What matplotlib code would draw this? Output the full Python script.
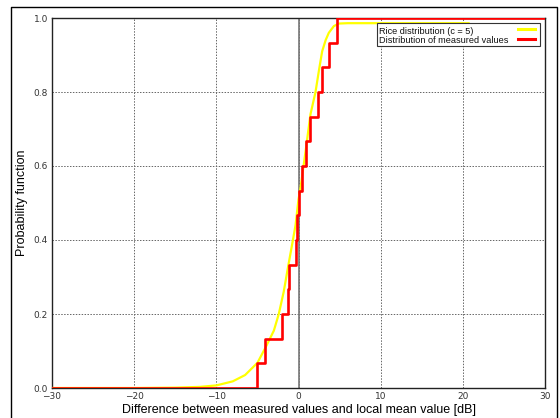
import matplotlib
matplotlib.use("Agg")
import matplotlib.pyplot as plt
from matplotlib.lines import Line2D
from matplotlib.patches import Rectangle

# Rice distribution (c = 5)
rice_db = [-30, -20, -15, -12, -10, -8, -6.5, -5, -4, -3, -2.4, -1.8, -1.25, -0.8,
           -0.36, 0, 0.24, 0.8, 1.46, 2.07, 2.5, 2.88, 3.3, 3.69, 4.3, 4.9, 6, 20.7]
rice_p = [0.0, 0.0, 0.001, 0.003, 0.007, 0.018, 0.035, 0.068, 0.11, 0.155, 0.2, 0.26,
          0.33, 0.385, 0.44, 0.51, 0.54, 0.63, 0.74, 0.8, 0.86, 0.91, 0.94, 0.96,
          0.978, 0.985, 0.986, 0.986]

# Distribution of measured values (empirical steps)
meas_db = [-30, -5.1, -4.1, -2.05, -1.25, -1.15, -0.35, -0.15, 0.02, 0.45, 0.9, 1.45,
           2.35, 2.8, 3.7, 4.7, 30]
meas_p = [0.0, 0.0667, 0.1333, 0.2, 0.2667, 0.3333, 0.4, 0.4667, 0.5333, 0.6, 0.6667,
          0.7333, 0.8, 0.8667, 0.9333, 1.0, 1.0]

x_ticks = [-30, -20, -10, 0, 10, 20, 30]
y_ticks = [0.0, 0.2, 0.4, 0.6, 0.8, 1.0]
y_ticklabels = ["0.0", "0.2", "0.4", "0.6", "0.8", "1.0"]
legend_labels = ["Rice distribution (c = 5)", "Distribution of measured values"]
colors = ["#ffff00", "#ff0000"]

fig = plt.figure(figsize=(5.6, 4.18), dpi=100)
ax = fig.add_axes([52/560, 1-388/418, (545-52)/560, (388-18)/418])

ax.set_xlim(-30, 30)
ax.set_ylim(0, 1.0)
ax.set_xticks(x_ticks)
ax.set_yticks(y_ticks)
ax.set_yticklabels(y_ticklabels)
ax.tick_params(length=0, labelsize=6.5, colors="#333333", pad=3)
ax.grid(True, color="#666666", linestyle=(0, (1.5, 1.5)), linewidth=0.7)
ax.axvline(0, color="#777777", linewidth=1.2, zorder=2)
for s in ax.spines.values():
    s.set_color("#222222")
    s.set_linewidth(1.0)

ax.plot(rice_db, rice_p, color=colors[0], linewidth=1.6, zorder=3)
ax.step(meas_db, meas_p, where="post", color=colors[1], linewidth=1.9, zorder=4)

lab_font = dict(family="Liberation Sans", size=9)
ax.set_xlabel("Difference between measured values and local mean value [dB]",
              fontdict=lab_font, labelpad=2)
ax.set_ylabel("Probability function", fontdict=lab_font, labelpad=4)

# legend box (text left, sample lines right)
ax.add_patch(Rectangle((0.659, 0.924), 0.331, 0.063, transform=ax.transAxes,
                       facecolor="white", edgecolor="#333333", linewidth=0.8, zorder=6))
text_y = [0.964, 0.938]
line_y = [0.969, 0.942]
for lab, c, ty, ly in zip(legend_labels, colors, text_y, line_y):
    ax.text(0.663, ty, lab, transform=ax.transAxes, ha="left", va="center",
            family="Liberation Sans", size=6.6, color="#111111", zorder=7)
    ax.add_line(Line2D([0.945, 0.98], [ly, ly], transform=ax.transAxes,
                       color=c, linewidth=2.2, zorder=7))

# outer frame
fx0, fx1, fy1 = 11/560, 557/560, 1-7/418
fig.add_artist(Line2D([fx0, fx0, fx1, fx1], [0, fy1, fy1, 0],
                      transform=fig.transFigure, color="black", linewidth=1.0))

fig.savefig("out.png", dpi=100)
